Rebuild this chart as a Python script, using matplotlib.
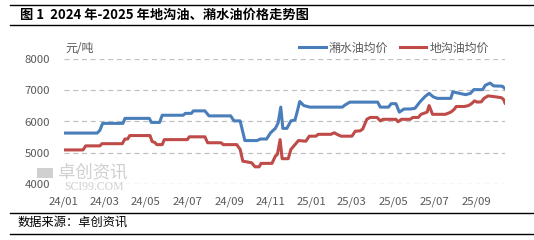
import matplotlib
matplotlib.use('Agg')
import matplotlib.pyplot as plt
import matplotlib.dates as mdates
import pandas as pd
from matplotlib.patches import Rectangle

plt.rcParams['font.family'] = ['Noto Sans CJK SC', 'DejaVu Sans']

# 潲水油均价 (元/吨)
swill_dates = ['2024-01-01', '2024-02-19', '2024-02-23', '2024-02-27', '2024-03-28', '2024-03-31',
               '2024-05-06', '2024-05-09', '2024-05-21', '2024-05-25', '2024-06-25', '2024-06-28',
               '2024-07-07', '2024-07-10', '2024-07-27', '2024-08-02', '2024-09-03', '2024-09-08',
               '2024-09-17', '2024-09-24', '2024-10-12', '2024-10-17', '2024-10-26', '2024-11-01',
               '2024-11-08', '2024-11-12', '2024-11-16', '2024-11-19', '2024-11-25', '2024-12-01',
               '2024-12-07', '2024-12-10', '2024-12-14', '2024-12-20', '2024-12-29', '2025-02-15',
               '2025-02-19', '2025-02-26', '2025-04-08', '2025-04-12', '2025-04-24', '2025-04-28',
               '2025-05-05', '2025-05-10', '2025-05-17', '2025-05-26', '2025-06-02', '2025-06-10',
               '2025-06-17', '2025-06-23', '2025-06-29', '2025-07-05', '2025-07-25', '2025-07-28',
               '2025-08-09', '2025-08-16', '2025-08-23', '2025-08-28', '2025-09-10', '2025-09-14',
               '2025-09-21', '2025-09-26', '2025-10-09', '2025-10-13']
swill_price = [5630, 5630, 5720, 5940, 5940, 6100,
               6100, 5970, 5970, 6200, 6200, 6260,
               6260, 6340, 6340, 6180, 6180, 6020,
               6020, 5390, 5390, 5440, 5440, 5640,
               5780, 5950, 6460, 5780, 5780, 6020,
               6050, 6290, 6640, 6510, 6460, 6460,
               6530, 6620, 6620, 6460, 6460, 6570,
               6570, 6300, 6400, 6400, 6420, 6640,
               6800, 6900, 6790, 6740, 6740, 6950,
               6890, 6860, 6900, 7020, 7020, 7160,
               7230, 7140, 7130, 7050]

# 地沟油均价 (元/吨)
gutter_dates = ['2024-01-01', '2024-01-29', '2024-02-02', '2024-02-23', '2024-02-26', '2024-03-27',
                '2024-03-31', '2024-04-04', '2024-04-07', '2024-05-07', '2024-05-10', '2024-05-14',
                '2024-05-17', '2024-05-25', '2024-05-28', '2024-07-01', '2024-07-04', '2024-07-27',
                '2024-07-31', '2024-08-20', '2024-08-23', '2024-09-12', '2024-09-17', '2024-09-21',
                '2024-10-04', '2024-10-09', '2024-10-15', '2024-10-18', '2024-11-03', '2024-11-08',
                '2024-11-11', '2024-11-15', '2024-11-18', '2024-11-27', '2024-12-01', '2024-12-07',
                '2024-12-12', '2024-12-23', '2024-12-28', '2025-01-07', '2025-01-10', '2025-01-29',
                '2025-02-03', '2025-02-07', '2025-02-13', '2025-03-01', '2025-03-06', '2025-03-13',
                '2025-03-17', '2025-03-23', '2025-03-28', '2025-04-07', '2025-04-12', '2025-04-16',
                '2025-05-05', '2025-05-08', '2025-05-13', '2025-05-26', '2025-05-30', '2025-06-07',
                '2025-06-11', '2025-06-20', '2025-06-23', '2025-06-28', '2025-07-17', '2025-07-25',
                '2025-07-30', '2025-08-02', '2025-08-14', '2025-08-20', '2025-08-24', '2025-08-29',
                '2025-09-02', '2025-09-08', '2025-09-12', '2025-09-18', '2025-09-29', '2025-10-08',
                '2025-10-11', '2025-10-13']
gutter_price = [5090, 5090, 5220, 5220, 5290, 5290,
                5440, 5440, 5550, 5550, 5360, 5330,
                5260, 5260, 5420, 5420, 5510, 5510,
                5320, 5320, 5260, 5260, 5110, 4730,
                4680, 4550, 4550, 4660, 4660, 4890,
                4950, 5420, 4810, 4810, 5110, 5260,
                5390, 5370, 5530, 5530, 5590, 5590,
                5640, 5590, 5530, 5530, 5690, 5700,
                5760, 6070, 6130, 6130, 6020, 6070,
                6070, 5990, 6070, 6070, 6130, 6130,
                6230, 6300, 6510, 6230, 6230, 6300,
                6390, 6480, 6480, 6510, 6560, 6660,
                6620, 6630, 6740, 6820, 6790, 6760,
                6700, 6590]

y_ticks = [4000, 5000, 6000, 7000, 8000]

text_color = '#595959'
blue = '#4a7ebb'
red = '#be4b48'

fig = plt.figure(figsize=(5.34, 2.4), dpi=100)

# header / footer rules and text
for y in [1 - 4.5 / 240, 1 - 25 / 240, 1 - 212.7 / 240, 1 - 234 / 240]:
    fig.add_artist(plt.Line2D([10 / 534, 1], [y, y], color='black', lw=1.0))
fig.text(20 / 534, 1 - 15 / 240, '图 1  2024 年-2025 年地沟油、潲水油价格走势图',
         fontsize=9.5, fontweight='bold', va='center', ha='left', color='black')
fig.text(18 / 534, 1 - 222 / 240, '数据来源：卓创资讯', fontsize=8.8,
         va='center', ha='left', color='black')

ax = fig.add_axes([64 / 534, 1 - 184 / 240, 441 / 534, 125 / 240])

sx = pd.to_datetime(swill_dates)
gx = pd.to_datetime(gutter_dates)
ax.plot(sx, swill_price, color=blue, lw=2.2, label='潲水油均价', solid_joinstyle='round')
ax.plot(gx, gutter_price, color=red, lw=2.2, label='地沟油均价', solid_joinstyle='round')

ax.set_ylim(4000, 8000)
ax.set_yticks(y_ticks)
ax.set_xlim(pd.Timestamp('2024-01-01'), pd.Timestamp('2025-10-13'))
ax.xaxis.set_major_locator(mdates.MonthLocator(bymonth=[1, 3, 5, 7, 9, 11]))
ax.xaxis.set_major_formatter(mdates.DateFormatter('%y/%m'))
ax.grid(axis='y', color='#c0c0c0', linestyle=(0, (4, 3)), lw=0.9)
ax.set_axisbelow(True)
for s in ax.spines.values():
    s.set_visible(False)
ax.tick_params(axis='both', length=0, labelsize=8.2, colors=text_color)
ax.tick_params(axis='y', pad=10)
ax.tick_params(axis='x', pad=9)

fig.text(65 / 534, 1 - 48 / 240, '元/吨', fontsize=8.6, color=text_color, va='center', ha='left')

ax.legend(loc='center', bbox_to_anchor=(394 / 534, 1 - 48 / 240), bbox_transform=fig.transFigure,
          ncol=2, frameon=False, fontsize=8.6, handlelength=2.2, handletextpad=0.25,
          columnspacing=1.0, borderpad=0, labelcolor=text_color)

# watermark
fig.add_artist(Rectangle((37 / 534, 1 - 178 / 240), 16 / 534, 10 / 240,
                         transform=fig.transFigure, color='#d0d0d0', lw=0, zorder=0))
fig.text(93 / 534, 1 - 172 / 240, '卓创资讯', fontsize=12.5, color='#d0d0d0',
         va='center', ha='center', zorder=0)
fig.text(94 / 534, 1 - 187 / 240, 'SCI99.COM', fontsize=8.5, color='#d0d0d0',
         family='Liberation Serif', va='center', ha='center', zorder=0)

fig.savefig('out.png', dpi=100)
